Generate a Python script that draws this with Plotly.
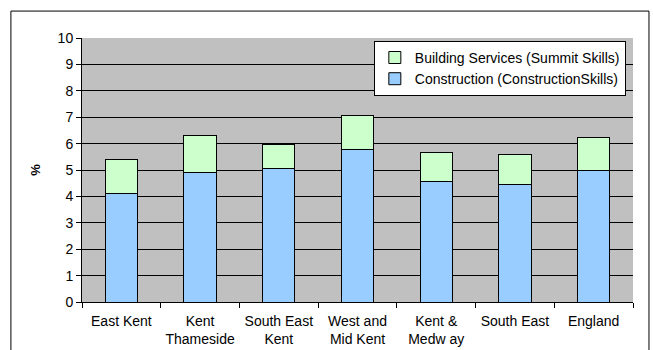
import plotly.graph_objects as go

categories = ["East Kent", "Kent<br>Thameside", "South East<br>Kent", "West and<br>Mid Kent",
              "Kent &<br>Medw ay", "South East", "England"]
construction = [4.11, 4.91, 5.06, 5.79, 4.58, 4.46, 5.00]
building_services = [1.29, 1.40, 0.91, 1.29, 1.07, 1.14, 1.25]
y_ticks = list(range(0, 11))

font = dict(family="Liberation Sans, Arial, sans-serif", size=14, color="black")

fig = go.Figure()
fig.add_trace(go.Bar(x=categories, y=construction, name="Construction (ConstructionSkills)",
                     marker=dict(color="#99CCFF", line=dict(color="black", width=1))))
fig.add_trace(go.Bar(x=categories, y=building_services, name="Building Services (Summit Skills)",
                     marker=dict(color="#CCFFCC", line=dict(color="black", width=1))))

fig.update_layout(
    width=653, height=350,
    barmode="stack", bargap=0.59,
    plot_bgcolor="#C0C0C0", paper_bgcolor="white",
    margin=dict(l=82, r=20, t=38, b=48),
    font=font,
    showlegend=True,
    legend=dict(x=0.987, y=0.989, xanchor="right", yanchor="top",
                bgcolor="white", bordercolor="black", borderwidth=1,
                traceorder="reversed", font=dict(size=14),
                tracegroupgap=0, itemwidth=30),
    xaxis=dict(type="category", showgrid=False, ticks="outside", tickson="boundaries",
               ticklen=5, tickcolor="black", showline=True, linecolor="black", linewidth=1,
               tickfont=dict(size=14), ticklabelstandoff=6, automargin=False),
    yaxis=dict(range=[0, 10], tickvals=y_ticks, showgrid=True, gridcolor="black", gridwidth=1,
               ticks="outside", ticklen=5, tickcolor="black", showline=True,
               linecolor="black", linewidth=1, zeroline=False, automargin=False,
               title=dict(text="<b>%</b>", standoff=14, font=dict(size=13)),
               tickfont=dict(size=14)),
    shapes=[dict(type="rect", xref="paper", yref="paper", x0=-0.129, x1=1.029, y0=-0.3, y1=1.102,
                 line=dict(color="black", width=1), fillcolor="rgba(0,0,0,0)", layer="above")],
)

fig.write_html("out.html")
